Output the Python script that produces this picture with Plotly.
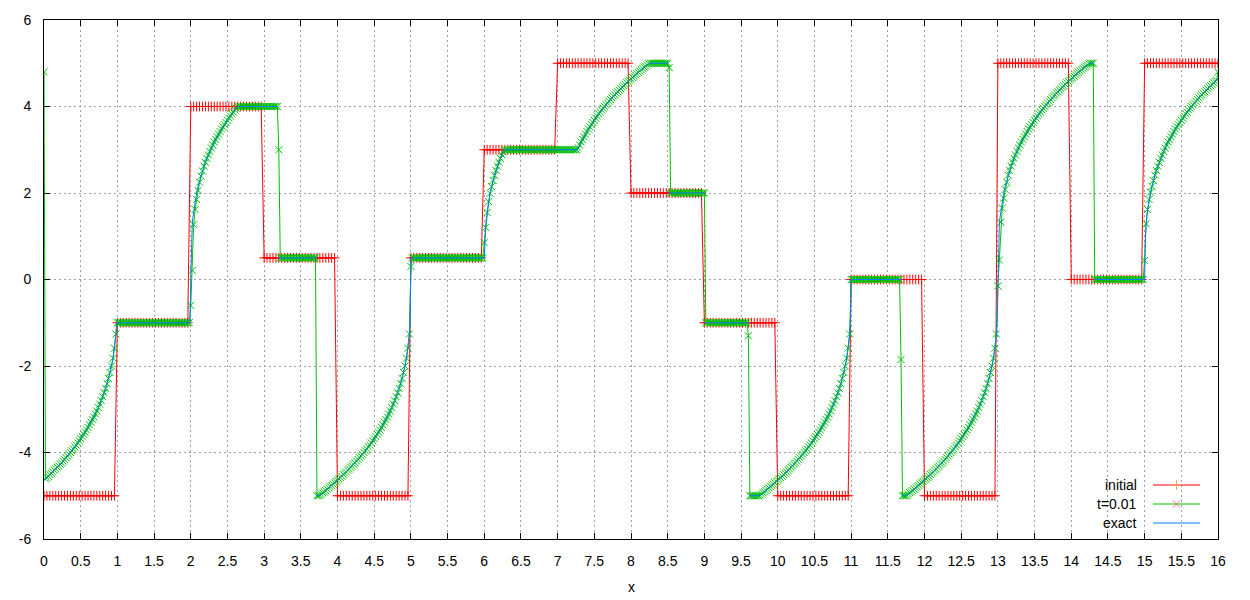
import plotly.graph_objects as go

# ---------------- data ----------------
# initial condition: one constant level on each unit interval [k, k+1), plotted every 0.04
initial_levels = [-5, -1, 4, 0.5, -5, 0.5, 3, 5, 2, -1, -5, 0, -5, 5, 0, 5]
initial_step = 0.04
initial_per_unit = 25

# numerical solution at t=0.01, one row per unit interval (x = k + 0.02 j, j = 0..49)
numeric_step = 0.02
num_row_00 = [4.8, -4.61, -4.58, -4.55, -4.51, -4.48, -4.45, -4.41, -4.38, -4.34,
              -4.31, -4.27, -4.24, -4.20, -4.16, -4.12, -4.08, -4.04, -4.00, -3.96,
              -3.92, -3.87, -3.83, -3.78, -3.73, -3.68, -3.63, -3.58, -3.53, -3.48,
              -3.42, -3.36, -3.30, -3.24, -3.18, -3.11, -3.04, -2.96, -2.88, -2.80,
              -2.71, -2.62, -2.52, -2.41, -2.29, -2.15, -2.00, -1.82, -1.59, -1.26]
num_row_01 = [-1.0] * 50
num_row_02 = [-0.6, 0.21, 1.27, 1.62, 1.85, 2.06, 2.25, 2.39, 2.51, 2.62,
              2.71, 2.80, 2.88, 2.96, 3.04, 3.11, 3.18, 3.24, 3.30, 3.36,
              3.42, 3.48, 3.53, 3.58, 3.63, 3.68, 3.73, 3.78, 3.83, 3.87,
              3.92, 3.96, 3.99] + [4.0] * 17
num_row_03 = [4.0] * 10 + [3.0] + [0.5] * 25 + [-5.0, -5.0, -4.99, -4.96, -4.93, -4.91, -4.88, -4.85,
                                                 -4.82, -4.79, -4.76, -4.73, -4.70, -4.67]
num_row_04 = [-4.64, -4.61, -4.58, -4.55, -4.51, -4.48, -4.45, -4.41, -4.38, -4.34,
              -4.31, -4.27, -4.24, -4.20, -4.16, -4.12, -4.08, -4.04, -4.00, -3.96,
              -3.92, -3.87, -3.83, -3.78, -3.73, -3.68, -3.63, -3.58, -3.53, -3.48,
              -3.42, -3.36, -3.30, -3.24, -3.18, -3.11, -3.04, -2.96, -2.88, -2.80,
              -2.71, -2.62, -2.52, -2.41, -2.29, -2.15, -2.00, -1.82, -1.59, -1.26]
num_row_05 = [0.3] + [0.5] * 49
num_row_06 = [0.85, 1.2, 1.55, 1.80, 1.99, 2.15, 2.29, 2.41, 2.52, 2.62,
              2.71, 2.80, 2.88, 2.95, 2.99] + [3.0] * 35
num_row_07 = [3.0] * 14 + [3.04, 3.11, 3.18, 3.24, 3.30, 3.36, 3.42, 3.48, 3.53, 3.58,
                           3.63, 3.68, 3.73, 3.78, 3.83, 3.87, 3.92, 3.96, 4.00, 4.04,
                           4.08, 4.12, 4.16, 4.20, 4.24, 4.27, 4.31, 4.34, 4.38, 4.41,
                           4.45, 4.48, 4.51, 4.55, 4.58, 4.61]
num_row_08 = [4.64, 4.67, 4.70, 4.73, 4.76, 4.79, 4.82, 4.85, 4.88, 4.91,
              4.93, 4.96, 4.99] + [5.0] * 13 + [4.9] + [2.0] * 23
num_row_09 = [2.0] + [-1.0] * 29 + [-1.3] + [-5.0] * 7 + [-4.99, -4.96, -4.93, -4.91, -4.88, -4.85,
                                                         -4.82, -4.79, -4.76, -4.73, -4.70, -4.67]
num_row_10 = [-4.64, -4.61, -4.58, -4.55, -4.51, -4.48, -4.45, -4.41, -4.38, -4.34,
              -4.31, -4.27, -4.24, -4.20, -4.16, -4.12, -4.08, -4.04, -4.00, -3.96,
              -3.92, -3.87, -3.83, -3.78, -3.73, -3.68, -3.63, -3.58, -3.53, -3.48,
              -3.42, -3.36, -3.30, -3.24, -3.18, -3.11, -3.04, -2.96, -2.88, -2.80,
              -2.71, -2.62, -2.52, -2.41, -2.29, -2.15, -2.00, -1.82, -1.59, -1.26]
num_row_11 = [0.0] * 34 + [-1.85, -5.0, -5.0, -5.0, -4.99, -4.96, -4.93, -4.91, -4.88, -4.85,
                           -4.82, -4.79, -4.76, -4.73, -4.70, -4.67]
num_row_12 = [-4.64, -4.61, -4.58, -4.55, -4.51, -4.48, -4.45, -4.41, -4.38, -4.34,
              -4.31, -4.27, -4.24, -4.20, -4.16, -4.12, -4.08, -4.04, -4.00, -3.96,
              -3.92, -3.87, -3.83, -3.78, -3.73, -3.68, -3.63, -3.58, -3.53, -3.48,
              -3.42, -3.36, -3.30, -3.24, -3.18, -3.11, -3.04, -2.96, -2.88, -2.80,
              -2.71, -2.62, -2.52, -2.41, -2.29, -2.15, -2.00, -1.82, -1.59, -1.26]
num_row_13 = [-0.15, 0.45, 1.33, 1.65, 1.88, 2.08, 2.25, 2.41, 2.52, 2.62,
              2.71, 2.80, 2.88, 2.96, 3.04, 3.11, 3.18, 3.24, 3.30, 3.36,
              3.42, 3.48, 3.53, 3.58, 3.63, 3.68, 3.73, 3.78, 3.83, 3.87,
              3.92, 3.96, 4.00, 4.04, 4.08, 4.12, 4.16, 4.20, 4.24, 4.27,
              4.31, 4.34, 4.38, 4.41, 4.45, 4.48, 4.51, 4.55, 4.58, 4.61]
num_row_14 = [4.64, 4.67, 4.70, 4.73, 4.76, 4.79, 4.82, 4.85, 4.88, 4.91,
              4.93, 4.96, 4.99, 5.0, 5.0, 5.0] + [0.0] * 34
num_row_15 = [0.44, 1.29, 1.62, 1.85, 2.02, 2.15, 2.29, 2.41, 2.52, 2.62,
              2.71, 2.80, 2.88, 2.96, 3.04, 3.11, 3.18, 3.24, 3.30, 3.36,
              3.42, 3.48, 3.53, 3.58, 3.63, 3.68, 3.73, 3.78, 3.83, 3.87,
              3.92, 3.96, 4.00, 4.04, 4.08, 4.12, 4.16, 4.20, 4.24, 4.27,
              4.31, 4.34, 4.38, 4.41, 4.45, 4.48, 4.51, 4.55, 4.58, 4.61]
num_last = 4.8   # value at x = 16

# exact solution: pieces between shocks (None breaks the line at a shock)
exact_x = [0, 0.1, 0.2, 0.3, 0.4, 0.5, 0.6, 0.7, 0.75, 0.8, 0.85, 0.9, 0.92, 0.94, 0.96, 0.97, 0.98, 0.99,
           1.99, 2.0, 2.01, 2.02, 2.03, 2.05, 2.08, 2.1, 2.15, 2.2, 2.25, 2.3, 2.35, 2.4, 2.45, 2.5, 2.55,
           2.6, 2.64, 3.183, None,
           3.183, 3.716, None,
           3.716, 3.75, 3.8, 3.9, 4.0, 4.1, 4.2, 4.3, 4.4, 4.5, 4.6, 4.7, 4.75, 4.8, 4.85, 4.9, 4.92, 4.94,
           4.96, 4.97, 4.98, 4.99, 5.0, 5.00125, 6.00125, 6.005, 6.01, 6.02, 6.03, 6.05, 6.08, 6.1, 6.15,
           6.2, 6.25, 6.27, 7.27, 7.3, 7.35, 7.4, 7.45, 7.5, 7.6, 7.7, 7.8, 7.9, 8.0, 8.1, 8.2, 8.25,
           8.508, None,
           8.508, 9.0125, None,
           9.0125, 9.61, None,
           9.61, 9.75, 9.8, 9.9, 10.0, 10.1, 10.2, 10.3, 10.4, 10.5, 10.6, 10.7, 10.75, 10.8, 10.85, 10.9,
           10.92, 10.94, 10.96, 10.97, 10.98, 10.99, 11.0, 11.6875, None,
           11.6875, 11.75, 11.8, 11.9, 12.0, 12.1, 12.2, 12.3, 12.4, 12.5, 12.6, 12.7, 12.75, 12.8, 12.85,
           12.9, 12.92, 12.94, 12.96, 12.97, 12.98, 12.99, 13.0, 13.01, 13.02, 13.03, 13.05, 13.08, 13.1,
           13.15, 13.2, 13.25, 13.3, 13.4, 13.5, 13.6, 13.7, 13.8, 13.9, 14.0, 14.1, 14.2, 14.25, 14.3125,
           None,
           14.3125, 15.0, 15.01, 15.02, 15.03, 15.05, 15.08, 15.1, 15.15, 15.2, 15.25, 15.3, 15.4, 15.5,
           15.6, 15.7, 15.8, 15.9, 16.0]
exact_y = [-4.642, -4.481, -4.309, -4.121, -3.915, -3.684, -3.42, -3.107, -2.924, -2.714, -2.466, -2.154,
           -2.0, -1.817, -1.587, -1.442, -1.26, -1.0,
           -1.0, 0.0, 1.0, 1.26, 1.442, 1.71, 2.0, 2.154, 2.466, 2.714, 2.924, 3.107, 3.271, 3.42, 3.557,
           3.684, 3.803, 3.915, 4.0, 4.0, None,
           0.5, 0.5, None,
           -5.0, -5.0, -4.932, -4.791, -4.642, -4.481, -4.309, -4.121, -3.915, -3.684, -3.42, -3.107,
           -2.924, -2.714, -2.466, -2.154, -2.0, -1.817, -1.587, -1.442, -1.26, -1.0, 0.0, 0.5, 0.5,
           0.794, 1.0, 1.26, 1.442, 1.71, 2.0, 2.154, 2.466, 2.714, 2.924, 3.0, 3.0, 3.107, 3.271, 3.42,
           3.557, 3.684, 3.915, 4.121, 4.309, 4.481, 4.642, 4.791, 4.932, 5.0, 5.0, None,
           2.0, 2.0, None,
           -1.0, -1.0, None,
           -5.0, -5.0, -4.932, -4.791, -4.642, -4.481, -4.309, -4.121, -3.915, -3.684, -3.42, -3.107,
           -2.924, -2.714, -2.466, -2.154, -2.0, -1.817, -1.587, -1.442, -1.26, -1.0, 0.0, 0.0, None,
           -5.0, -5.0, -4.932, -4.791, -4.642, -4.481, -4.309, -4.121, -3.915, -3.684, -3.42, -3.107,
           -2.924, -2.714, -2.466, -2.154, -2.0, -1.817, -1.587, -1.442, -1.26, -1.0, 0.0, 1.0, 1.26,
           1.442, 1.71, 2.0, 2.154, 2.466, 2.714, 2.924, 3.107, 3.42, 3.684, 3.915, 4.121, 4.309, 4.481,
           4.642, 4.791, 4.932, 5.0, 5.0, None,
           0.0, 0.0, 1.0, 1.26, 1.442, 1.71, 2.0, 2.154, 2.466, 2.714, 2.924, 3.107, 3.42, 3.684, 3.915,
           4.121, 4.309, 4.481, 4.642]

x_tick_vals = [i * 0.5 for i in range(33)]
x_tick_text = ["0", "0.5", "1", "1.5", "2", "2.5", "3", "3.5", "4", "4.5", "5", "5.5", "6", "6.5", "7",
               "7.5", "8", "8.5", "9", "9.5", "10", "10.5", "11", "11.5", "12", "12.5", "13", "13.5",
               "14", "14.5", "15", "15.5", "16"]
y_tick_vals = [-6, -4, -2, 0, 2, 4, 6]
y_tick_text = ["-6", "-4", "-2", "0", "2", "4", "6"]

legend_labels = ["initial", "t=0.01", "exact"]
x_title = "x"

# ---------------- assemble series ----------------
initial_x = [round(i * initial_step, 4) for i in range(len(initial_levels) * initial_per_unit + 1)]
initial_y = []
for lev in initial_levels:
    initial_y += [lev] * initial_per_unit
initial_y.append(initial_levels[-1])

num_rows = [num_row_00, num_row_01, num_row_02, num_row_03, num_row_04, num_row_05, num_row_06,
            num_row_07, num_row_08, num_row_09, num_row_10, num_row_11, num_row_12, num_row_13,
            num_row_14, num_row_15]
numeric_y = []
for r in num_rows:
    assert len(r) == 50, len(r)
    numeric_y += r
numeric_y.append(num_last)
numeric_x = [round(i * numeric_step, 4) for i in range(len(numeric_y))]
assert len(exact_x) == len(exact_y), (len(exact_x), len(exact_y))

RED = "#ff0000"
GREEN = "#00c000"
BLUE = "#0080ff"
FONT = "Liberation Sans, Arial, sans-serif"
FS = 14

fig = go.Figure()
fig.add_trace(go.Scatter(x=initial_x, y=initial_y, mode="lines+markers", name="initial",
                         line=dict(color=RED, width=1),
                         marker=dict(symbol="cross-thin-open", size=7, line=dict(color=RED, width=1)),
                         showlegend=False))
fig.add_trace(go.Scatter(x=numeric_x, y=numeric_y, mode="lines+markers", name="t=0.01",
                         line=dict(color=GREEN, width=1),
                         marker=dict(symbol="x-thin-open", size=7, line=dict(color=GREEN, width=1)),
                         showlegend=False))
fig.add_trace(go.Scatter(x=exact_x, y=exact_y, mode="lines", name="exact", connectgaps=False,
                         line=dict(color=BLUE, width=1), showlegend=False))

# page geometry (body margin removed by the post script below)
L, R, T, B = 44, 1218, 20, 539          # plot frame in page pixels
W, H = 1250, 600

# legend drawn gnuplot-style (label left of sample) on a pixel-mapped overlay axis
leg_rows = [485, 504, 523]
leg_colors = [RED, GREEN, BLUE]
leg_symbols = ["cross-thin-open", "x-thin-open", None]
for lab, yy, col, sym in zip(legend_labels, leg_rows, leg_colors, leg_symbols):
    fig.add_trace(go.Scatter(x=[1153, 1200], y=[yy, yy], xaxis="x2", yaxis="y2", mode="lines",
                             line=dict(color=col, width=1), showlegend=False, hoverinfo="skip"))
    if sym:
        fig.add_trace(go.Scatter(x=[1176.5], y=[yy], xaxis="x2", yaxis="y2", mode="markers",
                                 marker=dict(symbol=sym, size=7, line=dict(color=col, width=1)),
                                 showlegend=False, hoverinfo="skip"))
    fig.add_annotation(x=1139, y=yy, xref="x2", yref="y2", text=lab, showarrow=False,
                       xanchor="right", yanchor="middle", font=dict(family=FONT, size=FS, color="#000"))

# x axis title, centred 48px below the frame
fig.add_annotation(x=0.5, xref="paper", y=-(48 / (B - T)), yref="paper", text=x_title,
                   showarrow=False, xanchor="center", yanchor="middle",
                   font=dict(family=FONT, size=FS, color="black"))

axis_common = dict(showline=True, linecolor="black", linewidth=1, mirror="ticks", ticks="inside",
                   ticklen=6, tickcolor="black", tickwidth=1, showgrid=True, gridcolor="#a0a0a0",
                   griddash="2px,3px", gridwidth=1, zeroline=False, automargin=False,
                   tickfont=dict(family=FONT, size=FS, color="black"))

fig.update_layout(
    width=W, height=H,
    margin=dict(l=L, r=W - R, t=T, b=H - B),
    paper_bgcolor="white", plot_bgcolor="white",
    xaxis=dict(range=[0, 16], tickmode="array", tickvals=x_tick_vals, ticktext=x_tick_text,
               ticklabelstandoff=9, **axis_common),
    yaxis=dict(range=[-6, 6], tickmode="array", tickvals=y_tick_vals, ticktext=y_tick_text,
               ticklabelstandoff=9, **axis_common),
    xaxis2=dict(overlaying="x", range=[L, R], visible=False, fixedrange=True, automargin=False),
    yaxis2=dict(overlaying="y", range=[B, T], visible=False, fixedrange=True, automargin=False),
    font=dict(family=FONT, size=FS, color="black"),
)

fig.write_html("out.html", config={"displayModeBar": False},
               post_script="document.body.style.margin='0';document.body.style.overflow='hidden';")
